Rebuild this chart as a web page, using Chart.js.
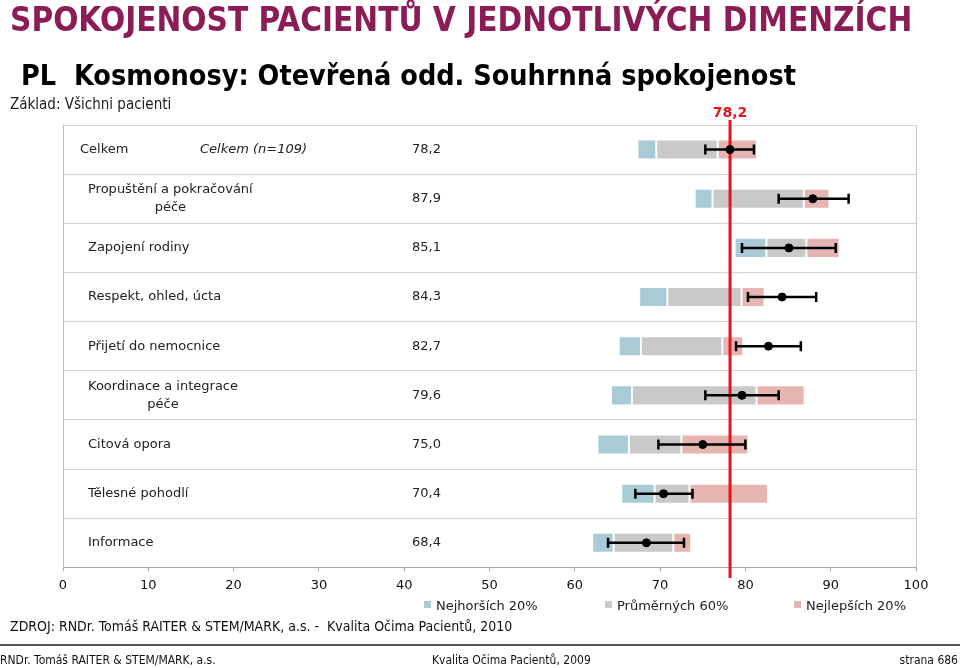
<!DOCTYPE html>
<html>
<head>
<meta charset="utf-8">
<script src="https://cdn.jsdelivr.net/npm/chart.js@4"></script>
<style>
  body { margin: 0; background: #fff; }
  #wrap { position: relative; width: 960px; height: 668px; overflow: hidden; font-family: "DejaVu Sans", Verdana, sans-serif; }
  #wrap canvas { position: absolute; left: 0; top: 0; }
  .cond { font-family: "DejaVu Sans Condensed", "Liberation Sans Narrow", "DejaVu Sans", sans-serif; font-stretch: condensed; }
  .abs { position: absolute; white-space: nowrap; }
  #title { left: 10px; top: 0px; font-size: 33px; font-weight: bold; color: #8c1c56; }
  #subtitle { left: 21px; top: 59px; font-size: 28.5px; font-weight: bold; color: #000; }
  #base { left: 10px; top: 95px; font-size: 15px; color: #222; }
  .leg { top: 598px; font-size: 13px; color: #222; }
  .leg i { display: inline-block; width: 7px; height: 7px; margin-right: 5px; vertical-align: 2px; }
  #src { left: 10px; top: 618px; font-size: 14px; color: #111; }
  #rule { left: 0; top: 644px; width: 960px; height: 2px; background: #555; }
  .foot { top: 653px; font-size: 12px; color: #111; }
</style>
</head>
<body>
<div id="wrap">
  <canvas id="myChart" width="960" height="668"></canvas>
  <div id="title" class="abs cond">SPOKOJENOST PACIENTŮ V JEDNOTLIVÝCH DIMENZÍCH</div>
  <div id="subtitle" class="abs cond">PL&nbsp; Kosmonosy: Otevřená odd. Souhrnná spokojenost</div>
  <div id="base" class="abs cond">Základ: Všichni pacienti</div>
  <div class="abs leg" style="left:424px"><i style="background:#a9cbd6"></i>Nejhorších 20%</div>
  <div class="abs leg" style="left:605px"><i style="background:#c9c9c9"></i>Průměrných 60%</div>
  <div class="abs leg" style="left:794px"><i style="background:#e6b5b1"></i>Nejlepších 20%</div>
  <div id="src" class="abs cond">ZDROJ: RNDr. Tomáš RAITER &amp; STEM/MARK, a.s. -&nbsp; Kvalita Očima Pacientů, 2010</div>
  <div id="rule" class="abs"></div>
  <div class="abs foot cond" style="left:0px">RNDr. Tomáš RAITER &amp; STEM/MARK, a.s.</div>
  <div class="abs foot cond" style="left:432px">Kvalita Očima Pacientů, 2009</div>
  <div class="abs foot cond" style="right:2px">strana 686</div>
</div>
<script>
const categories = [
    'Celkem',
    ['Propuštění a pokračování', 'péče'],
    'Zapojení rodiny',
    'Respekt, ohled, úcta',
    'Přijetí do nemocnice',
    ['Koordinace a integrace', 'péče'],
    'Citová opora',
    'Tělesné pohodlí',
    'Informace'
];
const totalNote = 'Celkem (n=109)';
const means = [78.2, 87.9, 85.1, 84.3, 82.7, 79.6, 75.0, 70.4, 68.4];
// hranice pásem: nejhorších 20 % | průměrných 60 % | nejlepších 20 %
const q0 = [67.35, 74.05, 78.75, 67.55, 65.15, 64.25, 62.65, 65.45, 62.05];
const q20 = [69.55, 76.15, 82.45, 70.85, 67.75, 66.7, 66.35, 69.35, 64.55];
const q80 = [76.75, 86.85, 87.15, 79.55, 77.3, 81.3, 72.5, 73.45, 71.55];
const q100 = [81.35, 89.85, 91.05, 82.25, 79.75, 86.95, 80.35, 82.65, 73.65];
// interval spolehlivosti
const errLo = [75.3, 83.9, 79.6, 80.3, 78.9, 75.3, 69.8, 67.1, 63.9];
const errHi = [81.0, 92.1, 90.6, 88.3, 86.5, 83.9, 80.0, 73.8, 72.8];
const xTicks = [0, 10, 20, 30, 40, 50, 60, 70, 80, 90, 100];
const total = means[0];

const fmt = v => v.toFixed(1).replace('.', ',');

const overlay = {
    id: 'overlay',
    beforeDatasetDraw(chart, args) {
        if (args.meta.type !== 'line') return;
        const ctx = chart.ctx;
        const x = chart.scales.x, y = chart.scales.y;
        // cervena cara celkoveho prumeru
        const rx = x.getPixelForValue(total);
        ctx.save();
        ctx.strokeStyle = '#e3141b';
        ctx.lineWidth = 3;
        ctx.beginPath();
        ctx.moveTo(rx, 120);
        ctx.lineTo(rx, 578);
        ctx.stroke();
        ctx.fillStyle = '#e3141b';
        ctx.font = 'bold 14px "DejaVu Sans", sans-serif';
        ctx.textAlign = 'center';
        ctx.textBaseline = 'middle';
        ctx.fillText(fmt(total), rx, 113);
        // chybove usecky
        ctx.strokeStyle = '#000';
        ctx.lineWidth = 2.5;
        means.forEach((m, i) => {
            const py = y.getPixelForValue(i);
            const a = x.getPixelForValue(errLo[i]);
            const b = x.getPixelForValue(errHi[i]);
            ctx.beginPath();
            ctx.moveTo(a, py); ctx.lineTo(b, py);
            ctx.moveTo(a, py - 5); ctx.lineTo(a, py + 5);
            ctx.moveTo(b, py - 5); ctx.lineTo(b, py + 5);
            ctx.stroke();
        });
        ctx.restore();
    },
    afterDraw(chart) {
        const ctx = chart.ctx;
        const y = chart.scales.y;
        const left = chart.chartArea.left;
        ctx.save();
        ctx.fillStyle = '#222';
        ctx.textBaseline = 'middle';
        ctx.font = '13px "DejaVu Sans", sans-serif';
        categories.forEach((c, i) => {
            const py = y.getPixelForValue(i);
            const lines = Array.isArray(c) ? c : [c];
            const lx = left + (i === 0 ? 17 : 25);
            if (lines.length === 1) {
                ctx.textAlign = 'left';
                ctx.fillText(lines[0], lx, py);
            } else {
                const w = Math.max(...lines.map(l => ctx.measureText(l).width));
                ctx.textAlign = 'center';
                lines.forEach((l, k) => ctx.fillText(l, lx + w / 2, py + (k - (lines.length - 1) / 2) * 18));
            }
            ctx.textAlign = 'right';
            ctx.fillText(fmt(means[i]), left + 378, py);
        });
        ctx.font = 'italic 13px "DejaVu Sans", sans-serif';
        ctx.textAlign = 'left';
        ctx.fillText(totalNote, left + 137, y.getPixelForValue(0));
        ctx.restore();
    }
};

const ctx = document.getElementById('myChart');
const myChart = new Chart(ctx, {
    type: 'bar',
    data: {
        labels: categories.map(c => Array.isArray(c) ? c.join(' ') : c),
        datasets: [{
            label: 'Nejhorších 20%',
            data: q0.map((v, i) => [v, q20[i]]),
            backgroundColor: '#a9cbd6'
        }, {
            label: 'Průměrných 60%',
            data: q20.map((v, i) => [v, q80[i]]),
            backgroundColor: '#c9c9c9'
        }, {
            label: 'Nejlepších 20%',
            data: q80.map((v, i) => [v, q100[i]]),
            backgroundColor: '#e6b5b1'
        }, {
            type: 'line',
            label: 'Průměr',
            data: means,
            showLine: false,
            pointRadius: 4,
            pointBackgroundColor: '#000',
            pointBorderColor: '#000',
            order: 0
        }].map((d, i) => i < 3 ? Object.assign(d, {
            grouped: false,
            order: 1,
            borderColor: '#fff',
            borderWidth: 1.3,
            borderSkipped: false,
            barThickness: 20
        }) : d)
    },
    options: {
        indexAxis: 'y',
        responsive: false,
        animation: false,
        layout: { padding: { left: 63, right: 44, top: 125, bottom: 69 } },
        plugins: {
            legend: { display: false },
            tooltip: { enabled: false }
        },
        scales: {
            x: {
                min: 0,
                max: 100,
                afterBuildTicks: axis => { axis.ticks = xTicks.map(v => ({ value: v })); },
                grid: {
                    color: c => (c.tick && (c.tick.value === 0 || c.tick.value === 100)) ? '#c4c4c4' : 'rgba(0,0,0,0)',
                    tickColor: '#a8a8a8',
                    tickLength: 4
                },
                border: { color: '#a8a8a8' },
                ticks: {
                    color: '#111',
                    padding: 6,
                    font: { family: '"DejaVu Sans", sans-serif', size: 13 }
                }
            },
            y: {
                ticks: { display: false },
                grid: { color: '#d2d2d2', drawTicks: false, offset: true },
                border: { color: '#bdbdbd' }
            }
        }
    },
    plugins: [overlay]
});
</script>
</body>
</html>
